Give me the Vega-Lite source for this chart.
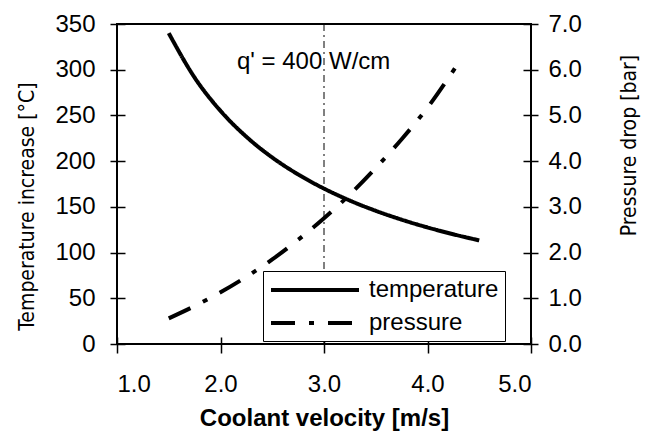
{
  "$schema": "https://vega.github.io/schema/vega-lite/v6.json",
  "width": 414,
  "height": 320,
  "autosize": {"type": "none"},
  "padding": {"left": 117, "top": 24, "right": 120, "bottom": 102},
  "background": "white",
  "config": {
    "view": {"stroke": "black", "strokeWidth": 2},
    "font": "Liberation Sans",
    "axis": {
      "domain": false,
      "grid": false,
      "tickColor": "black",
      "tickWidth": 1.5,
      "labelColor": "black",
      "labelFont": "Liberation Sans",
      "labelFontSize": 24,
      "titleColor": "black"
    }
  },
  "data": {
    "values": [
      {"series": "temperature", "v": 1.5, "value": 340},
      {"series": "temperature", "v": 1.75, "value": 291.4},
      {"series": "temperature", "v": 2.0, "value": 255},
      {"series": "temperature", "v": 2.25, "value": 226.7},
      {"series": "temperature", "v": 2.5, "value": 204},
      {"series": "temperature", "v": 2.75, "value": 185.5},
      {"series": "temperature", "v": 3.0, "value": 170},
      {"series": "temperature", "v": 3.25, "value": 156.9},
      {"series": "temperature", "v": 3.5, "value": 145.7},
      {"series": "temperature", "v": 3.75, "value": 136},
      {"series": "temperature", "v": 4.0, "value": 127.5},
      {"series": "temperature", "v": 4.25, "value": 120},
      {"series": "temperature", "v": 4.5, "value": 113.3},
      {"series": "pressure", "v": 1.5, "value": 0.56},
      {"series": "pressure", "v": 1.75, "value": 0.83},
      {"series": "pressure", "v": 2.0, "value": 1.13},
      {"series": "pressure", "v": 2.25, "value": 1.47},
      {"series": "pressure", "v": 2.5, "value": 1.85},
      {"series": "pressure", "v": 2.75, "value": 2.28},
      {"series": "pressure", "v": 3.0, "value": 2.75},
      {"series": "pressure", "v": 3.25, "value": 3.27},
      {"series": "pressure", "v": 3.5, "value": 3.85},
      {"series": "pressure", "v": 3.75, "value": 4.48},
      {"series": "pressure", "v": 4.0, "value": 5.17},
      {"series": "pressure", "v": 4.3, "value": 6.15}
    ]
  },
  "layer": [
    {
      "layer": [
        {
          "data": {"values": [{"v": 3}]},
          "mark": {"type": "rule", "color": "black", "strokeWidth": 1, "strokeDash": [7, 4, 2, 4]},
          "encoding": {
            "x": {"field": "v", "type": "quantitative", "scale": {"domain": [1, 5], "nice": false}}
          }
        },
        {
          "transform": [{"filter": "datum.series === 'temperature'"}],
          "mark": {"type": "line", "color": "black", "strokeWidth": 4, "interpolate": "monotone"},
          "encoding": {
            "x": {
              "field": "v", "type": "quantitative",
              "scale": {"domain": [1, 5], "nice": false},
              "axis": {
                "values": [1, 2, 3, 4, 5], "format": ".1f",
                "offset": -7, "tickSize": 16, "labelPadding": 19,
                "title": "Coolant velocity [m/s]",
                "titleFont": "Liberation Sans", "titleFontSize": 24, "titleFontWeight": "bold",
                "titlePadding": 10
              }
            },
            "y": {
              "field": "value", "type": "quantitative",
              "scale": {"domain": [0, 350], "nice": false},
              "axis": {
                "orient": "left",
                "values": [0, 50, 100, 150, 200, 250, 300, 350],
                "offset": -8, "tickSize": 15, "labelPadding": 15,
                "title": "Temperature increase [°C]",
                "titleFont": "Liberation Sans Narrow, DejaVu Sans Condensed, Liberation Sans",
                "titleFontSize": 21, "titleFontWeight": "normal",
                "titleAngle": 270, "titleAlign": "center", "titleBaseline": "middle",
                "titleX": -98, "titleY": 182
              }
            },
            "strokeDash": {
              "field": "series", "type": "nominal",
              "scale": {"domain": ["temperature", "pressure"], "range": [[1, 0], [24, 14, 5, 14]]},
              "legend": {
                "orient": "none", "legendX": 146, "legendY": 247,
                "title": null,
                "fillColor": "white", "strokeColor": "black",
                "padding": 6, "cornerRadius": 0,
                "labelFont": "Liberation Sans", "labelFontSize": 24, "labelColor": "black",
                "labelOffset": 74,
                "symbolType": "M-1,0H7", "symbolSize": 484,
                "symbolStrokeWidth": 4, "symbolStrokeColor": "black", "symbolFillColor": "transparent",
                "rowPadding": 8
              }
            }
          }
        },
        {
          "data": {"values": [{"label": "q' = 400 W/cm", "v": 2.9, "value": 308}]},
          "mark": {"type": "text", "font": "Liberation Sans", "fontSize": 24, "align": "center", "baseline": "middle", "color": "black"},
          "encoding": {
            "x": {"field": "v", "type": "quantitative"},
            "y": {"field": "value", "type": "quantitative"},
            "text": {"field": "label"}
          }
        }
      ]
    },
    {
      "transform": [{"filter": "datum.series === 'pressure'"}],
      "mark": {"type": "line", "color": "black", "strokeWidth": 4, "interpolate": "monotone"},
      "encoding": {
        "x": {"field": "v", "type": "quantitative", "scale": {"domain": [1, 5], "nice": false}},
        "y": {
          "field": "value", "type": "quantitative",
          "scale": {"domain": [0, 7], "nice": false},
          "axis": {
            "orient": "right",
            "values": [0, 1, 2, 3, 4, 5, 6, 7], "format": ".1f",
            "offset": -8, "tickSize": 15, "labelPadding": 10,
            "title": "Pressure drop [bar]",
            "titleFont": "Liberation Sans Narrow, DejaVu Sans Condensed, Liberation Sans",
            "titleFontSize": 21, "titleFontWeight": "normal",
            "titleAngle": 270, "titleAlign": "center", "titleBaseline": "middle",
            "titleX": 106, "titleY": 121
          }
        },
        "strokeDash": {
          "field": "series", "type": "nominal",
          "scale": {"domain": ["temperature", "pressure"], "range": [[1, 0], [24, 14, 5, 14]]}
        }
      }
    }
  ],
  "resolve": {"scale": {"y": "independent"}}
}
